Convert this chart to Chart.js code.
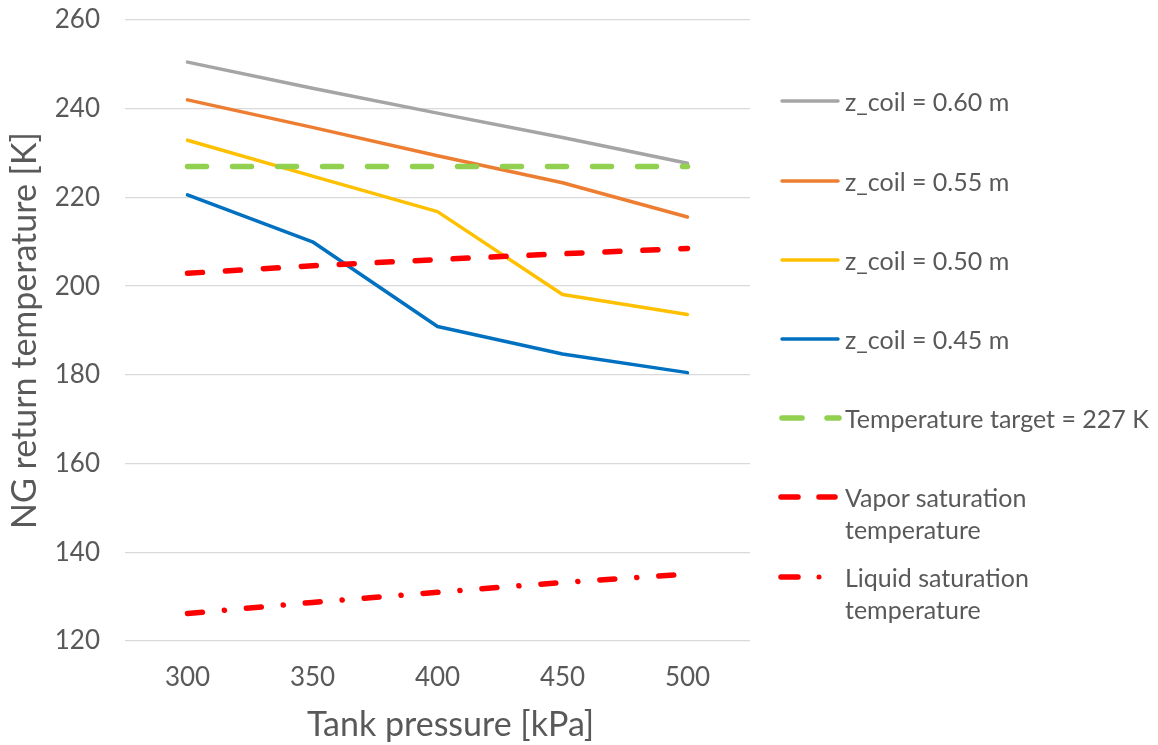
<!DOCTYPE html>
<html>
<head>
<meta charset="utf-8">
<script src="https://cdn.jsdelivr.net/npm/chart.js@4/dist/chart.umd.min.js"></script>
<style>
  html, body { margin: 0; padding: 0; background: #fff; }
  #wrap { position: relative; width: 1158px; height: 745px; overflow: hidden; }
  #legend { position: absolute; left: 0; top: 0; width: 1158px; height: 745px; pointer-events: none; }
  .item { position: absolute; left: 778px; font-family: Lato, "Open Sans", sans-serif; font-size: 25px; color: #595959; line-height: 32px; }
  .item svg { position: absolute; left: 0; top: 0; }
  .item .txt { position: absolute; left: 67px; top: 0; white-space: nowrap; }
</style>
</head>
<body>
<div id="wrap">
  <canvas id="c" width="1158" height="745"></canvas>
  <div id="legend"></div>
</div>
<script>
const pressures = ["300", "350", "400", "450", "500"];
const zcoil060 = [250.5, 244.6, 239.0, 233.5, 227.7];
const zcoil055 = [242.0, 235.8, 229.4, 223.3, 215.6];
const zcoil050 = [232.9, 224.8, 216.8, 198.1, 193.6];
const zcoil045 = [220.6, 210.0, 190.9, 184.7, 180.5];
const target227 = [227, 227, 227, 227, 227];
const vaporSat = [202.9, 204.6, 206.0, 207.3, 208.5];
const liquidSat = [126.2, 128.7, 131.0, 133.2, 135.1];
const yTicks = [120, 140, 160, 180, 200, 220, 240, 260];

const legendLabels = ["z_coil = 0.60 m", "z_coil = 0.55 m", "z_coil = 0.50 m", "z_coil = 0.45 m",
  "Temperature target = 227 K", ["Vapor saturation", "temperature"], ["Liquid saturation", "temperature"]];

const FONT = 'Lato, "Open Sans", sans-serif';
const TXT = '#595959';

const series = [
  { label: "z_coil = 0.60 m", data: zcoil060, color: '#A5A5A5', width: 3.5, dash: [], order: 6 },
  { label: "z_coil = 0.55 m", data: zcoil055, color: '#ED7D31', width: 3.5, dash: [], order: 5 },
  { label: "z_coil = 0.50 m", data: zcoil050, color: '#FFC000', width: 3.5, dash: [], order: 4 },
  { label: "z_coil = 0.45 m", data: zcoil045, color: '#0070C0', width: 3.5, dash: [], order: 3 },
  { label: "Temperature target = 227 K", data: target227, color: '#92D050', width: 5.5, dash: [19, 26], order: 2 },
  { label: "Vapor saturation temperature", data: vaporSat, color: '#FF0000', width: 5.5, dash: [15, 23], order: 1 },
  { label: "Liquid saturation temperature", data: liquidSat, color: '#FF0000', width: 5.5, dash: [15, 22, 0.1, 22], order: 0 }
];

new Chart(document.getElementById('c'), {
  type: 'line',
  data: {
    labels: pressures,
    datasets: series.map(s => ({
      label: s.label,
      data: s.data,
      borderColor: s.color,
      backgroundColor: s.color,
      borderWidth: s.width,
      borderDash: s.dash,
      borderCapStyle: 'round',
      borderJoinStyle: 'round',
      pointRadius: 0,
      tension: 0,
      fill: false,
      order: s.order
    }))
  },
  options: {
    responsive: false,
    animation: false,
    layout: { padding: { left: 0, right: 408, top: 0, bottom: 0 } },
    plugins: { legend: { display: false }, tooltip: { enabled: false } },
    scales: {
      x: {
        type: 'category',
        offset: true,
        grid: { display: false, drawTicks: false },
        border: { display: false },
        ticks: { color: TXT, font: { family: FONT, size: 26 }, padding: 21, maxRotation: 0 },
        title: { display: true, text: '   Tank pressure [kPa]', color: TXT, font: { family: FONT, size: 34 }, padding: { top: 0, bottom: 0 } },
        afterFit: s => { s.height = 104; }
      },
      y: {
        min: 120, max: 260,
        afterBuildTicks: s => { s.ticks = yTicks.map(v => ({ value: v })); },
        grid: { color: '#D9D9D9', lineWidth: 1.3, drawTicks: false },
        border: { display: false },
        ticks: { color: TXT, font: { family: FONT, size: 26 }, padding: 25 },
        title: { display: true, text: 'NG return temperature [K]', color: TXT, font: { family: FONT, size: 34 }, padding: { top: 5, bottom: 0 } },
        afterFit: s => { s.width = 125; s.paddingTop = 20; s.paddingBottom = 0; }
      }
    }
  }
});

// HTML legend with line samples
const legendY = [101, 181, 260, 339, 418, 497, 577];
const leg = document.getElementById('legend');
series.forEach((s, i) => {
  const lab = legendLabels[i];
  const lines = Array.isArray(lab) ? lab : [lab];
  const div = document.createElement('div');
  div.className = 'item';
  div.style.top = (legendY[i] - 16) + 'px';
  div.style.height = (32 * lines.length) + 'px';
  div.style.width = '380px';
  let svg;
  const w = s.width;
  if (s.dash.length === 0) {
    svg = `<svg width="66" height="32"><line x1="4" y1="16" x2="60" y2="16" stroke="${s.color}" stroke-width="${w}" stroke-linecap="round"/></svg>`;
  } else if (i === 4) {
    svg = `<svg width="66" height="32"><line x1="4" y1="16" x2="24" y2="16" stroke="${s.color}" stroke-width="${w}" stroke-linecap="round"/><line x1="49" y1="16" x2="61" y2="16" stroke="${s.color}" stroke-width="${w}" stroke-linecap="round"/></svg>`;
  } else if (i === 5) {
    svg = `<svg width="66" height="32"><line x1="3" y1="16" x2="20" y2="16" stroke="${s.color}" stroke-width="${w}" stroke-linecap="round"/><line x1="41" y1="16" x2="57" y2="16" stroke="${s.color}" stroke-width="${w}" stroke-linecap="round"/></svg>`;
  } else {
    svg = `<svg width="66" height="32"><line x1="3" y1="16" x2="20" y2="16" stroke="${s.color}" stroke-width="${w}" stroke-linecap="round"/><circle cx="41" cy="16" r="2.5" fill="${s.color}"/></svg>`;
  }
  div.innerHTML = svg + `<div class="txt">${lines.join('<br>')}</div>`;
  leg.appendChild(div);
});
</script>
</body>
</html>
